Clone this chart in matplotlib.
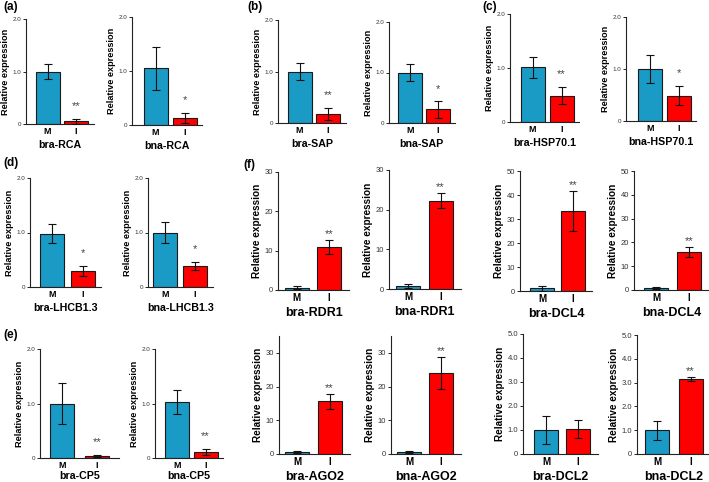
import matplotlib
matplotlib.use("Agg")
import matplotlib.pyplot as plt

plt.rcParams['font.family'] = ['Liberation Sans', 'DejaVu Sans']

W, H = 709, 482

# data: one entry per small panel
genes = ["bra-RCA", "bna-RCA", "bra-SAP", "bna-SAP", "bra-HSP70.1", "bna-HSP70.1",
         "bra-LHCB1.3", "bna-LHCB1.3", "bra-RDR1", "bna-RDR1", "bra-DCL4", "bna-DCL4",
         "bra-CP5", "bna-CP5", "bra-AGO2", "bna-AGO2", "bra-DCL2", "bna-DCL2"]
m_vals = [1.0, 1.05, 1.0, 1.0, 1.01, 1.0,
          0.98, 1.0, 0.6, 0.7, 1.1, 0.9,
          1.0, 1.02, 0.5, 0.5, 1.0, 1.0]
m_errs = [0.15, 0.4, 0.17, 0.17, 0.19, 0.26,
          0.18, 0.2, 0.4, 0.5, 0.9, 0.5,
          0.38, 0.22, 0.3, 0.3, 0.58, 0.4]
i_vals = [0.05, 0.13, 0.18, 0.27, 0.49, 0.49,
          0.30, 0.38, 11.0, 22.3, 33.3, 16.0,
          0.04, 0.11, 15.6, 24.0, 1.05, 3.15]
i_errs = [0.05, 0.09, 0.12, 0.17, 0.16, 0.19,
          0.09, 0.07, 1.8, 1.8, 8.5, 2.1,
          0.02, 0.06, 2.2, 4.8, 0.38, 0.07]
stars = ["**", "*", "**", "*", "**", "*",
         "*", "*", "**", "**", "**", "**",
         "**", "**", "**", "**", "", "**"]
ymax = [2, 2, 2, 2, 2, 2,
        2, 2, 30, 30, 50, 50,
        2, 2, 35, 35, 5, 5]
yticks = [[0, 1, 2]] * 8 + [[0, 10, 20, 30]] * 2 + [[0, 10, 20, 30, 40, 50]] * 2 \
         + [[0, 1, 2]] * 2 + [[0, 10, 20, 30]] * 2 + [[0, 1, 2, 3, 4, 5]] * 2
ytick_labels = [["0", "1.0", "2.0"]] * 8 + [["0", "10", "20", "30"]] * 2 \
               + [["0", "10", "20", "30", "40", "50"]] * 2 + [["0", "1.0", "2.0"]] * 2 \
               + [["0", "10", "20", "30"]] * 2 + [["0", "1.0", "2.0", "3.0", "4.0", "5.0"]] * 2
groups = ["M", "I"]

# layout in pixels: y axis x, M centre, I centre, zero line y, top of axis y
boxes = [(26, 47.5, 76, 124, 19), (132, 155.5, 184.5, 125, 17),
         (278, 299.5, 328, 123, 20), (389, 410, 437.5, 123, 22),
         (510, 532.5, 561.5, 122, 14), (626, 650, 678.5, 121, 17),
         (30, 52, 82.5, 287, 178), (148, 165, 194.5, 287, 178),
         (278, 296.5, 329, 290, 172), (389, 408, 440.5, 289, 170),
         (520, 542, 573, 291, 171), (634, 656, 689, 290, 171),
         (40, 62, 97, 458, 349), (155, 177, 205.5, 458, 349),
         (279, 297, 329.5, 454, 336), (391, 409, 441, 454, 336),
         (523, 546, 578, 454, 334), (637, 657, 690.5, 454, 335)]
big = [False] * 8 + [True] * 4 + [False] * 2 + [True] * 4

panel_tags = [("(a)", 3, 7), ("(b)", 247, 7), ("(c)", 482, 7),
              ("(d)", 3, 163), ("(f)", 243, 165), ("(e)", 3, 335)]

blue = "#1a9bc6"
red = "#ff0000"

fig = plt.figure(figsize=(W / 100, H / 100), dpi=100)

for k, g in enumerate(genes):
    ax_x, cm, ci, y0, yt = boxes[k]
    s = ci - cm
    x_left = -(cm - ax_x) / s
    right_px = ci + 0.62 * s
    x_right = 1 + 0.62
    ax = fig.add_axes([ax_x / W, 1 - y0 / H, (right_px - ax_x) / W, (y0 - yt) / H])
    bw = 24 / s
    ax.bar([0, 1], [m_vals[k], i_vals[k]], width=bw, color=[blue, red],
           edgecolor="#1a1a1a", linewidth=0.8, zorder=2)
    ax.errorbar([0, 1], [m_vals[k], i_vals[k]], yerr=[m_errs[k], i_errs[k]],
                fmt="none", ecolor="#111111", elinewidth=0.8, capsize=2.6,
                capthick=0.8, zorder=3)
    ax.set_xlim(x_left, x_right)
    ax.set_ylim(0, ymax[k])
    for sp in ["top", "right"]:
        ax.spines[sp].set_visible(False)
    for sp in ["left", "bottom"]:
        ax.spines[sp].set_linewidth(0.8)
        ax.spines[sp].set_color("#222222")
    fs_tick = 5.5 if big[k] else 4.5
    ax.set_yticks(yticks[k])
    ax.set_yticklabels(ytick_labels[k], fontsize=fs_tick, color="#333333")
    ax.tick_params(axis="y", length=2.5, width=0.7, pad=1, color="#222222")
    ax.set_xticks([0, 1])
    ax.set_xticklabels(groups, fontsize=7 if big[k] else 6.5, fontweight="bold")
    ax.tick_params(axis="x", length=0, pad=2)
    ax.set_ylabel("Relative expression", fontsize=7.2 if big[k] else 6.6,
                  fontweight="bold", labelpad=2)
    # bottom-row small panels sit close to the figure edge
    pad = 1.2 if k in (12, 13) else 3
    ax.set_xlabel(g, fontsize=9 if big[k] else 7.7, fontweight="bold", labelpad=pad)
    if stars[k]:
        off = 0.05 if big[k] else 0.12
        ax.text(1, i_vals[k] + i_errs[k] + off * ymax[k], stars[k], ha="center",
                va="center", fontsize=8, color="#444444")

for t, x, y in panel_tags:
    fig.text(x / W, 1 - y / H, t, fontsize=8.5, fontweight="bold", va="center", ha="left")

fig.savefig("out.png", dpi=100)
